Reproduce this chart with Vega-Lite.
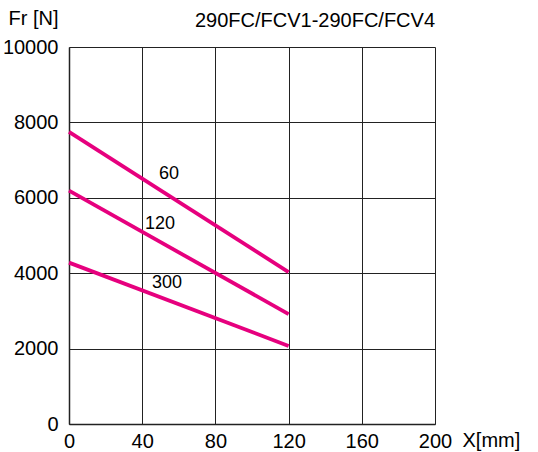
{
  "$schema": "https://vega.github.io/schema/vega-lite/v6.json",
  "width": 366,
  "height": 377,
  "autosize": {"type": "none"},
  "padding": {"left": 69, "top": 47, "right": 103, "bottom": 28},
  "background": "white",
  "title": {
    "text": "290FC/FCV1-290FC/FCV4",
    "anchor": "end",
    "frame": "group",
    "font": "Liberation Sans",
    "fontSize": 20,
    "fontWeight": "normal",
    "color": "black",
    "baseline": "bottom",
    "offset": 0,
    "dy": 43
  },
  "config": {
    "view": {"stroke": null},
    "font": "Liberation Sans"
  },
  "datasets": {
    "curves": [
      {"series": "60", "x": 0, "fr": 7750},
      {"series": "60", "x": 120, "fr": 4030},
      {"series": "120", "x": 0, "fr": 6190},
      {"series": "120", "x": 120, "fr": 2915},
      {"series": "300", "x": 0, "fr": 4280},
      {"series": "300", "x": 120, "fr": 2070}
    ],
    "labels": [
      {"label": "60", "x": 54.6, "fr": 6620},
      {"label": "120", "x": 49.7, "fr": 5310},
      {"label": "300", "x": 53.6, "fr": 3745}
    ]
  },
  "layer": [
    {
      "data": {"name": "curves"},
      "mark": {"type": "line", "color": "#E6007E", "strokeWidth": 3.8},
      "encoding": {
        "x": {
          "field": "x",
          "type": "quantitative",
          "scale": {"domain": [0, 200], "nice": false},
          "axis": {
            "values": [0, 40, 80, 120, 160, 200],
            "grid": true,
            "gridColor": "#222",
            "gridWidth": 1,
            "gridOpacity": 1,
            "domainColor": "#222",
            "domainWidth": 1.5,
            "ticks": false,
            "labelFont": "Liberation Sans",
            "labelFontSize": 20,
            "labelColor": "black",
            "labelPadding": 7,
            "labelFlush": false,
            "title": "X[mm]",
            "titleFont": "Liberation Sans",
            "titleFontSize": 20,
            "titleFontWeight": "normal",
            "titleColor": "black",
            "titleAlign": "left",
            "titleBaseline": "middle",
            "titleX": 393,
            "titleY": 16
          }
        },
        "y": {
          "field": "fr",
          "type": "quantitative",
          "scale": {"domain": [0, 10000], "nice": false},
          "axis": {
            "values": [0, 2000, 4000, 6000, 8000, 10000],
            "grid": true,
            "gridColor": "#222",
            "gridWidth": 1,
            "gridOpacity": 1,
            "domainColor": "#222",
            "domainWidth": 1.5,
            "ticks": false,
            "format": "d",
            "labelFont": "Liberation Sans",
            "labelFontSize": 20,
            "labelColor": "black",
            "labelPadding": 11,
            "labelFlush": false,
            "title": "Fr [N]",
            "titleFont": "Liberation Sans",
            "titleFontSize": 20,
            "titleFontWeight": "normal",
            "titleColor": "black",
            "titleAngle": 0,
            "titleAlign": "left",
            "titleBaseline": "middle",
            "titleX": -61,
            "titleY": -29
          }
        },
        "detail": {"field": "series"}
      }
    },
    {
      "data": {"name": "labels"},
      "mark": {"type": "text", "font": "Liberation Sans", "fontSize": 18, "color": "black", "align": "center", "baseline": "middle"},
      "encoding": {
        "x": {"field": "x", "type": "quantitative"},
        "y": {"field": "fr", "type": "quantitative"},
        "text": {"field": "label"}
      }
    }
  ]
}
